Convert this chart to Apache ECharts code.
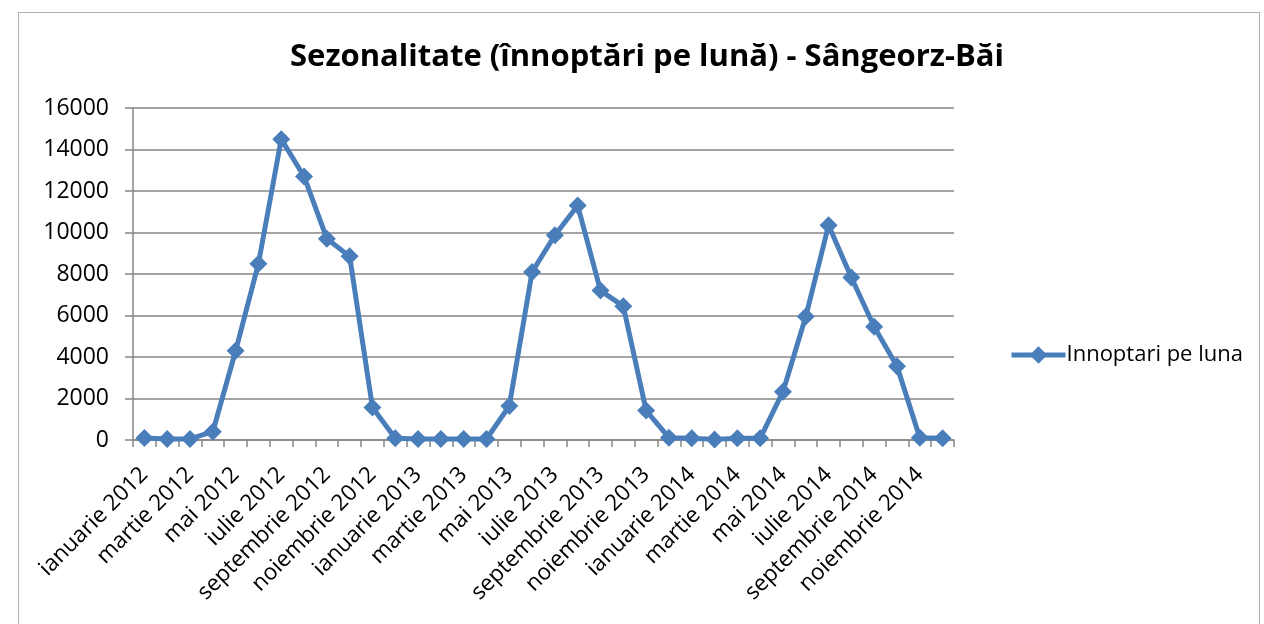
<!DOCTYPE html>
<html>
<head>
<meta charset="utf-8">
<script src="https://cdn.jsdelivr.net/npm/echarts@6/dist/echarts.min.js"></script>
<style>
  html, body { margin: 0; padding: 0; background: #fff; }
  #frame { position: absolute; left: 18px; top: 12px; width: 1240px; height: 620px; border: 1px solid #b0b0b0; }
  #chart { position: absolute; left: 0; top: 0; width: 1264px; height: 624px; }
</style>
</head>
<body>
<div id="frame"></div>
<div id="chart"></div>
<script>
const luni = ['ianuarie', 'februarie', 'martie', 'aprilie', 'mai', 'iunie',
              'iulie', 'august', 'septembrie', 'octombrie', 'noiembrie', 'decembrie'];
const ani = [2012, 2013, 2014];
const categories = [];
ani.forEach(a => luni.forEach(l => categories.push(l + ' ' + a)));

const innoptari = [
    100, 50, 50, 400, 4300, 8500, 14500, 12700, 9700, 8850, 1570, 80,
    50, 50, 50, 50, 1640, 8100, 9870, 11300, 7200, 6450, 1420, 110,
    80, 30, 80, 80, 2330, 5950, 10350, 7830, 5460, 3560, 110, 80
];

const chart = echarts.init(document.getElementById('chart'));
const font = '"Open Sans", "Noto Sans", sans-serif';
chart.setOption({
    animation: false,
    title: {
        text: 'Sezonalitate (înnoptări pe lună) - Sângeorz-Băi',
        left: 642, top: 37, textAlign: 'center',
        textStyle: { fontFamily: font, fontSize: 31, fontWeight: 'bold', color: '#000' }
    },
    legend: {
        orient: 'vertical', left: 1004, top: 339,
        itemWidth: 54, itemHeight: 22, itemGap: 6,
        lineStyle: { width: 5 },
        textStyle: { fontFamily: font, fontSize: 22, color: '#000', padding: [0, 0, 0, -4] },
        data: ['Innoptari pe luna']
    },
    grid: { left: 133, right: 310, top: 108, bottom: 184 },
    xAxis: {
        type: 'category',
        data: categories,
        boundaryGap: true,
        axisLine: { lineStyle: { color: '#868686', width: 1.5 } },
        axisTick: { show: true, interval: 0, length: 7, lineStyle: { color: '#868686', width: 1.5 } },
        axisLabel: { interval: 1, rotate: 45, fontFamily: font, fontSize: 22.5, color: '#000', margin: 31 }
    },
    yAxis: {
        type: 'value',
        min: 0, max: 16000, interval: 2000,
        axisLine: { show: true, lineStyle: { color: '#868686', width: 1.5 } },
        axisTick: { show: true, length: 8, lineStyle: { color: '#868686', width: 1.5 } },
        splitLine: { lineStyle: { color: '#868686', width: 1.5 } },
        axisLabel: { fontFamily: font, fontSize: 23, color: '#000', margin: 24, formatter: v => String(v) }
    },
    series: [{
        name: 'Innoptari pe luna',
        type: 'line',
        data: innoptari,
        symbol: 'diamond',
        symbolSize: 18,
        showAllSymbol: true,
        lineStyle: { color: '#4a7ebb', width: 5 },
        itemStyle: { color: '#4a7ebb' }
    }]
});
</script>
</body>
</html>
